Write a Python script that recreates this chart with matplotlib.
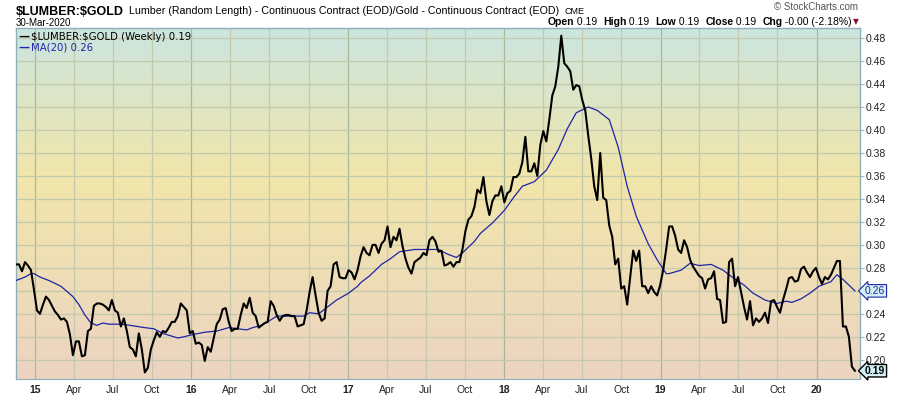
import numpy as np
import pandas as pd
import matplotlib
matplotlib.use("Agg")
import matplotlib.pyplot as plt
from matplotlib.colors import LinearSegmentedColormap
from matplotlib.transforms import blended_transform_factory

# weekly $LUMBER:$GOLD ratio (first week 17-Nov-2014)
start_date = "2014-11-17"
ratio_weekly = [
    0.283, 0.283, 0.277, 0.285, 0.282, 0.278, 0.261, 0.243, 0.240, 0.248,
    0.255, 0.252, 0.247, 0.242, 0.239, 0.235, 0.236, 0.233, 0.222, 0.204,
    0.216, 0.216, 0.203, 0.204, 0.225, 0.227, 0.247, 0.249, 0.249, 0.248,
    0.246, 0.243, 0.252, 0.243, 0.241, 0.229, 0.236, 0.225, 0.211, 0.209,
    0.203, 0.223, 0.209, 0.189, 0.193, 0.209, 0.217, 0.224, 0.220, 0.225,
    0.224, 0.228, 0.233, 0.233, 0.238, 0.249, 0.246, 0.243, 0.223,
    0.225, 0.214, 0.215, 0.213, 0.199, 0.211, 0.207, 0.219, 0.231, 0.235,
    0.244, 0.245, 0.233, 0.225, 0.227, 0.227, 0.239, 0.249, 0.245, 0.254,
    0.241, 0.238, 0.228, 0.230, 0.232, 0.233, 0.251, 0.247, 0.239, 0.234,
    0.238, 0.239, 0.239, 0.238, 0.238, 0.229, 0.230, 0.231, 0.243, 0.259,
    0.272, 0.256, 0.241, 0.234, 0.236, 0.260, 0.264, 0.283, 0.285, 0.272,
    0.271, 0.271, 0.278, 0.276, 0.270, 0.278, 0.290, 0.298,
    0.293, 0.291, 0.300, 0.300, 0.293, 0.301, 0.304, 0.316, 0.298, 0.307,
    0.304, 0.314, 0.299, 0.288, 0.280, 0.275, 0.285, 0.287, 0.289, 0.293,
    0.291, 0.304, 0.307, 0.303, 0.294, 0.295, 0.282, 0.283, 0.285, 0.281,
    0.285, 0.285, 0.296, 0.312, 0.322, 0.325, 0.333, 0.348, 0.345, 0.359,
    0.338, 0.326, 0.338, 0.343, 0.343, 0.351, 0.337, 0.345, 0.347, 0.359,
    0.359, 0.362, 0.372, 0.394, 0.364, 0.364, 0.371,
    0.360, 0.387, 0.399, 0.390, 0.409, 0.430, 0.438, 0.455, 0.482, 0.458,
    0.455, 0.451, 0.435, 0.439, 0.438, 0.426, 0.417, 0.395, 0.375, 0.351,
    0.339, 0.380, 0.341, 0.339, 0.317, 0.307, 0.283, 0.288, 0.262, 0.264,
    0.248, 0.272, 0.295, 0.286, 0.295, 0.264, 0.264, 0.258, 0.264, 0.259,
    0.256, 0.265, 0.278, 0.296, 0.316, 0.316, 0.308, 0.296, 0.293, 0.304,
    0.298, 0.287, 0.281, 0.277, 0.273, 0.271,
    0.262, 0.270, 0.271, 0.277, 0.253, 0.252, 0.232, 0.233, 0.285, 0.288,
    0.264, 0.272, 0.259, 0.246, 0.235, 0.251, 0.230, 0.236, 0.233, 0.236,
    0.241, 0.232, 0.251, 0.252, 0.246, 0.241, 0.252, 0.261, 0.271, 0.272,
    0.268, 0.269, 0.279, 0.281, 0.276, 0.272, 0.277, 0.280, 0.272, 0.266,
    0.272, 0.270, 0.274, 0.280, 0.286, 0.286, 0.229, 0.229, 0.220, 0.194,
    0.1905,
]

# 20-week moving average (week number, value)
ma_weeks = [0, 3, 5, 6, 8, 11, 15, 19, 21, 23, 25, 27, 29, 31, 35, 38, 43, 46, 49,
            54, 56, 59, 63, 67, 71, 74, 77, 79, 82, 84, 87, 92, 96, 98, 101, 104,
            107, 111, 114, 115, 118, 122, 125, 128, 133, 137, 141, 144, 147, 149,
            153, 155, 159, 163, 166, 169, 173, 177, 181, 184, 187, 191, 194, 198,
            201, 204, 207, 211, 214, 217, 218, 222, 225, 228, 232, 236, 239, 243,
            246, 250, 254, 257, 259, 262, 265, 268, 272, 274, 276, 278, 280]
ma_values = [0.269, 0.272, 0.275, 0.275, 0.272, 0.269, 0.264, 0.255, 0.248, 0.239,
             0.232, 0.230, 0.232, 0.231, 0.231, 0.230, 0.228, 0.227, 0.223, 0.219,
             0.220, 0.222, 0.224, 0.225, 0.228, 0.227, 0.226, 0.228, 0.230, 0.233,
             0.238, 0.238, 0.238, 0.241, 0.240, 0.246, 0.252, 0.258, 0.264, 0.267,
             0.273, 0.283, 0.288, 0.294, 0.296, 0.296, 0.296, 0.292, 0.289, 0.293,
             0.303, 0.310, 0.319, 0.330, 0.341, 0.351, 0.355, 0.365, 0.383, 0.401,
             0.415, 0.420, 0.417, 0.409, 0.385, 0.351, 0.325, 0.301, 0.287, 0.275,
             0.275, 0.278, 0.284, 0.282, 0.283, 0.278, 0.272, 0.265, 0.258, 0.252,
             0.249, 0.251, 0.250, 0.253, 0.258, 0.264, 0.268, 0.274, 0.270, 0.265,
             0.260]

y_ticks = [0.20, 0.22, 0.24, 0.26, 0.28, 0.30, 0.32, 0.34, 0.36, 0.38, 0.40,
           0.42, 0.44, 0.46, 0.48]
month_names = {1: None, 4: "Apr", 7: "Jul", 10: "Oct"}

dates = pd.date_range(start_date, periods=len(ratio_weekly), freq="7D")
t0 = pd.Timestamp(start_date)
ma_dates = t0 + pd.to_timedelta(np.array(ma_weeks) * 7, unit="D")
quarters = pd.date_range("2015-01-01", "2020-01-01", freq="QS")

plt.rcParams["font.family"] = ["Liberation Sans", "DejaVu Sans"]

fig = plt.figure(figsize=(9, 3.96), dpi=100)
ax = fig.add_axes([16 / 900, 17 / 396, 844 / 900, 351 / 396])
renderer = fig.canvas.get_renderer()

# background gradient teal (top) -> yellow -> beige (bottom)
cmap = LinearSegmentedColormap.from_list(
    "bg", [(0.0, "#cbe5e0"), (0.42, "#f1e6aa"), (1.0, "#ecd4c2")])
grad = np.linspace(0, 1, 256).reshape(-1, 1)
ax.imshow(grad, aspect="auto", cmap=cmap, extent=[0, 1, 0, 1],
          transform=ax.transAxes, zorder=0)

for q in quarters:
    col = "#a9b89c" if q.month == 1 else "#c3c9ad"
    ax.axvline(q, color=col, lw=0.9, zorder=1)
for yv in y_ticks:
    ax.axhline(yv, color="#c3c9ad", lw=0.9, zorder=1)

ax.plot(ma_dates, ma_values, color="#1f24a6", lw=0.9, zorder=3)
ax.plot(dates, ratio_weekly, color="black", lw=1.5, zorder=4)

ax.set_xlim(t0, t0 + pd.Timedelta(days=281.7 * 7))
ax.set_ylim(0.1833, 0.4887)

ax.yaxis.tick_right()
ax.set_yticks(y_ticks)
ax.set_yticklabels([f"{v:.2f}" for v in y_ticks])
ax.tick_params(axis="y", length=3, width=0.8, color="#9fbcc4", pad=1,
               labelsize=7.5, labelcolor="#222222")

ax.set_xticks(quarters)
ax.set_xticklabels([str(q.year)[2:] if q.month == 1 else month_names[q.month]
                    for q in quarters])
ax.tick_params(axis="x", length=0, pad=4, labelsize=7.5, labelcolor="#222222")
for lab, q in zip(ax.get_xticklabels(), quarters):
    if q.month == 1:
        lab.set_fontweight("bold")

for s in ["left", "top", "right"]:
    ax.spines[s].set_color("#8fb0ba")
    ax.spines[s].set_linewidth(1.0)
ax.spines["bottom"].set_color("#8fb0ba")
ax.spines["bottom"].set_linestyle((0, (1, 1)))

# legend inside plot
ax.text(0.0025, 0.975, "\u2014", transform=ax.transAxes, fontsize=8,
        fontweight="bold", color="black", va="center", ha="left",
        family="DejaVu Sans")
ax.text(0.018, 0.975, r"\$LUMBER:\$GOLD (Weekly) " + f"{ratio_weekly[-1]:.2f}",
        transform=ax.transAxes, fontsize=7.3, color="black", va="center",
        ha="left", family="DejaVu Sans")
ax.text(0.0025, 0.945, "\u2014", transform=ax.transAxes, fontsize=8,
        fontweight="bold", color="#1f24a6", va="center", ha="left",
        family="DejaVu Sans")
ax.text(0.018, 0.945, f"MA(20) {ma_values[-1]:.2f}", transform=ax.transAxes,
        fontsize=7.3, color="#1f24a6", va="center", ha="left",
        family="DejaVu Sans")

# value tags on the right axis
trans = blended_transform_factory(ax.transAxes, ax.transData)
ax.text(1.006, ma_values[-1], f"{ma_values[-1]:.2f}", transform=trans,
        fontsize=7.5, color="#1f24a6", va="center", ha="left", zorder=6,
        bbox=dict(boxstyle="larrow,pad=0.12", fc="#d3f0f7", ec="#1f24a6", lw=0.8))
ax.text(1.006, ratio_weekly[-1], f"{ratio_weekly[-1]:.2f}", transform=trans,
        fontsize=7.5, fontweight="bold", color="black", va="center", ha="left",
        zorder=6,
        bbox=dict(boxstyle="larrow,pad=0.12", fc="#d3f0f7", ec="black", lw=1.0))
for lab in ax.get_yticklabels():
    if lab.get_text() == "0.26":
        lab.set_visible(False)

# header texts, placed one after another
title = fig.text(16 / 900, 1 - 12 / 396, r"\$LUMBER:\$GOLD", fontsize=9,
                 fontweight="bold", va="center", ha="left")
x_sub = 16 + title.get_window_extent(renderer).width + 5
sub = fig.text(x_sub / 900, 1 - 11.5 / 396,
               "Lumber (Random Length) - Continuous Contract (EOD)/Gold - Continuous Contract (EOD)",
               fontsize=7.65, va="center", ha="left")
x_cme = x_sub + sub.get_window_extent(renderer).width + 5
fig.text(x_cme / 900, 1 - 11.5 / 396, "CME", fontsize=6.5, va="center", ha="left")
fig.text(16 / 900, 1 - 23.5 / 396, "30-Mar-2020", fontsize=7, va="center", ha="left")
fig.text(858 / 900, 1 - 7 / 396, "\u00a9 StockCharts.com", fontsize=7,
         color="#555555", va="center", ha="right")

# Open / High / Low / Close / Chg line, drawn as runs
last = ratio_weekly[-1]
runs = [("Open", True), (f" {last:.2f}  ", False), ("High", True),
        (f" {last:.2f}  ", False), ("Low", True), (f" {last:.2f}  ", False),
        ("Close", True), (f" {last:.2f}  ", False), ("Chg", True),
        (" -0.00 (-2.18%)", False)]
widths = []
for txt, bold in runs:
    t = fig.text(0, 0, txt, fontsize=7.5, fontweight="bold" if bold else "normal")
    widths.append(t.get_window_extent(renderer).width)
    t.remove()
xpos = 852 - sum(widths)
for (txt, bold), w in zip(runs, widths):
    fig.text(xpos / 900, 1 - 22 / 396, txt, fontsize=7.5,
             fontweight="bold" if bold else "normal", va="center", ha="left")
    xpos += w
fig.text((xpos + 1) / 900, 1 - 22 / 396, "\u25bc", fontsize=5.5, color="#8b1538",
         va="center", ha="left", family="DejaVu Sans")

fig.savefig("out.png", dpi=100)
